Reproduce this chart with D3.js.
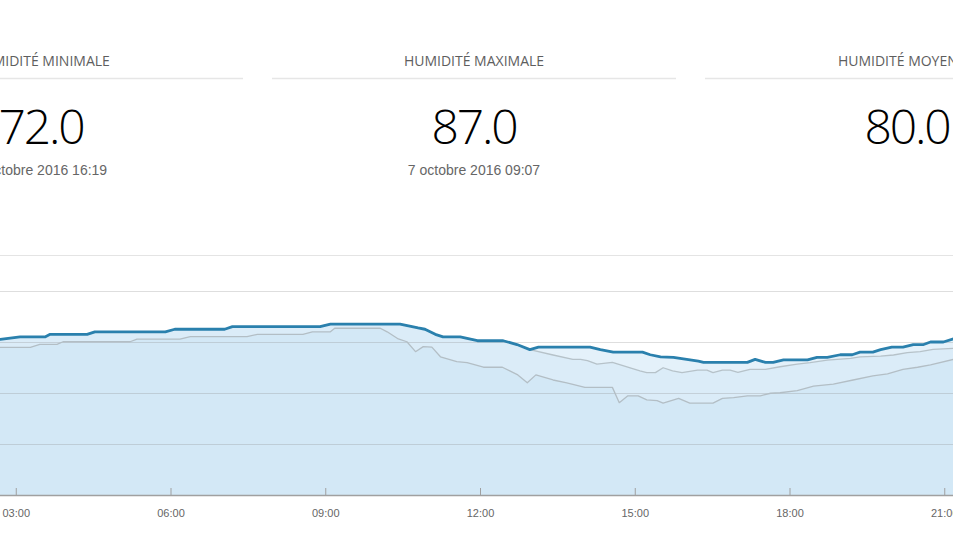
<!DOCTYPE html>
<html>
<head>
<meta charset="utf-8">
<script src="https://cdn.jsdelivr.net/npm/d3@7"></script>
<style>
  html, body { margin: 0; padding: 0; background: #fff; overflow: hidden; }
  svg { display: block; font-family: "Open Sans", sans-serif; }
</style>
</head>
<body>
<div id="chart"></div>
<script>
// stats shown above the chart
const statLabels = ["HUMIDITÉ MINIMALE", "HUMIDITÉ MAXIMALE", "HUMIDITÉ MOYENNE"];
const statValues = [72.0, 87.0, 80.0];
const statDates = ["7 octobre 2016 16:19", "7 octobre 2016 09:07", ""];

const tickHours = [0, 3, 6, 9, 12, 15, 18, 21, 24];
const gridValues = [20, 40, 60, 80, 100];

// humidity (blue line)
const humidite = [
  ["02:30", 81], ["02:42", 81], ["03:05", 82], ["03:34", 82], ["03:40", 83],
  ["04:23", 83], ["04:32", 84], ["05:54", 84], ["06:05", 85], ["07:03", 85],
  ["07:12", 86], ["08:54", 86], ["09:06", 87], ["10:27", 87], ["10:48", 85.5],
  ["10:56", 85], ["11:08", 83], ["11:17", 82], ["11:37", 82], ["11:57", 80.5],
  ["12:27", 80.5], ["12:43", 79], ["12:58", 77], ["13:08", 78], ["14:08", 78],
  ["14:20", 77], ["14:35", 76], ["15:09", 76], ["15:18", 75], ["15:30", 74.2],
  ["15:45", 74], ["16:14", 72.5], ["16:20", 72], ["17:11", 72], ["17:20", 73.2],
  ["17:32", 72], ["17:41", 72], ["17:53", 73], ["18:21", 73], ["18:32", 74],
  ["18:44", 74], ["18:59", 75], ["19:13", 75], ["19:22", 76], ["19:37", 76],
  ["19:46", 77], ["19:59", 78], ["20:12", 78], ["20:24", 79], ["20:36", 79],
  ["20:44", 80], ["20:59", 80], ["21:11", 81.3], ["21:24", 82]
];

// upper grey series
const serieHaute = [
  ["02:30", 81], ["02:42", 81], ["03:05", 82], ["03:34", 82], ["03:40", 83],
  ["04:23", 83], ["04:32", 84], ["05:54", 84], ["06:05", 85], ["07:03", 85],
  ["07:12", 86], ["08:54", 86], ["09:06", 87], ["10:27", 87], ["10:48", 85.5],
  ["10:56", 85], ["11:08", 83], ["11:17", 82], ["11:37", 82], ["11:57", 80.5],
  ["12:27", 80.5], ["12:43", 79], ["12:58", 77], ["13:25", 74.9], ["13:48", 73.2],
  ["13:57", 73.2], ["14:05", 72.7], ["14:16", 71.3], ["14:34", 72], ["15:06", 68.7],
  ["15:14", 68], ["15:24", 68], ["15:33", 69.9], ["15:44", 68.7], ["15:55", 68],
  ["16:13", 69], ["16:24", 69], ["16:31", 68], ["16:42", 69], ["16:51", 69],
  ["17:00", 68.1], ["17:14", 69.3], ["17:32", 69.3], ["17:49", 70.3], ["18:09", 71.3],
  ["18:24", 71.9], ["18:44", 72.9], ["19:11", 73.6], ["19:22", 74.2], ["19:46", 74.5],
  ["20:01", 74.9], ["20:17", 75.8], ["20:32", 76.2], ["20:47", 77.1], ["21:11", 77.5],
  ["21:24", 78]
];

// lower grey series
const serieBasse = [
  ["02:30", 77.9], ["03:17", 77.9], ["03:28", 79.1], ["03:48", 79.1], ["03:55", 80.1],
  ["05:13", 80.1], ["05:21", 81.1], ["06:11", 81.1], ["06:23", 82.1], ["07:29", 82.1],
  ["07:41", 83], ["08:34", 83], ["08:45", 84], ["09:06", 84], ["09:11", 85.4],
  ["10:04", 85.4], ["10:12", 84], ["10:25", 81.2], ["10:35", 80.1], ["10:45", 76.2],
  ["10:54", 78.2], ["11:04", 78], ["11:14", 74.2], ["11:33", 72.3], ["11:45", 71.9],
  ["12:04", 70.1], ["12:26", 70.1], ["12:44", 67.1], ["12:55", 64], ["13:05", 67.1],
  ["13:25", 65.1], ["13:41", 64], ["14:02", 62.2], ["14:34", 62.2], ["14:42", 56.2],
  ["14:52", 58.9], ["15:04", 58.9], ["15:14", 57.3], ["15:26", 57], ["15:33", 56],
  ["15:51", 57.9], ["16:04", 56], ["16:31", 56], ["16:42", 57.9], ["16:55", 58.2],
  ["17:11", 58.9], ["17:26", 58.9], ["17:38", 59.9], ["17:49", 60.1], ["18:09", 60.9],
  ["18:28", 62.7], ["18:51", 63.5], ["19:14", 65.1], ["19:37", 66.7], ["19:54", 67.5],
  ["20:12", 69.3], ["20:29", 70.1], ["20:44", 71], ["21:11", 73.2], ["21:24", 74]
];

const width = 953, height = 536;
const panelW = 404, panelGap = 29, panelStart = -161;
const plotTop = 255, plotBottom = 495;

const parseTime = d3.timeParse("%Y-%m-%d %H:%M");
const day = "2016-10-07";
const toPoints = arr => arr.map(([t, v]) => ({ t: parseTime(`${day} ${t}`), v }));

const svg = d3.select("#chart").append("svg")
  .attr("width", width)
  .attr("height", height);

// ---- stat panels
const panels = svg.selectAll(".panel")
  .data(statLabels.map((label, i) => ({ label, value: statValues[i], date: statDates[i] })))
  .join("g")
  .attr("class", "panel")
  .attr("transform", (_d, i) => `translate(${panelStart + i * (panelW + panelGap)},0)`);

panels.append("text")
  .attr("x", panelW / 2)
  .attr("y", 66)
  .attr("text-anchor", "middle")
  .style("font-size", "14px")
  .style("fill", "#5e5e5e")
  .text(d => d.label);

panels.append("line")
  .attr("x1", 0).attr("x2", panelW)
  .attr("y1", 78.5).attr("y2", 78.5)
  .attr("stroke", "#e6e6e6")
  .attr("stroke-width", 1.5);

panels.append("text")
  .attr("x", panelW / 2)
  .attr("y", 144)
  .attr("text-anchor", "middle")
  .style("font-size", "48px")
  .style("font-weight", "300")
  .style("letter-spacing", "-2.2px")
  .style("fill", "#000")
  .text(d => d3.format(".1f")(d.value));

panels.append("text")
  .attr("x", panelW / 2)
  .attr("y", 175)
  .attr("text-anchor", "middle")
  .style("font-family", "'Liberation Sans', Arial, sans-serif")
  .style("font-size", "14px")
  .style("fill", "#666")
  .text(d => d.date);

// ---- chart
const x = d3.scaleTime()
  .domain([parseTime(`${day} 00:00`), parseTime("2016-10-08 00:00")])
  .range([-139, 1099]);

const y = d3.scaleLinear()
  .domain([20, 100])
  .range([plotBottom, 291]);

const area = d3.area()
  .x(d => x(d.t))
  .y0(plotBottom)
  .y1(d => y(d.v));

const line = d3.line()
  .x(d => x(d.t))
  .y(d => y(d.v));

const series = [
  { pts: toPoints(humidite), fill: "#e4f1fa", stroke: "#2a80ad", w: 2.8 },
  { pts: toPoints(serieHaute), fill: "#dbecf8", stroke: "#b6c2c9", w: 1.3 },
  { pts: toPoints(serieBasse), fill: "#d3e8f6", stroke: "#b3bec5", w: 1.3 }
];

svg.append("line")
  .attr("x1", 0).attr("x2", width)
  .attr("y1", plotTop + 0.5).attr("y2", plotTop + 0.5)
  .attr("stroke", "#e4e4e4");

svg.selectAll(".area")
  .data(series)
  .join("path")
  .attr("class", "area")
  .attr("fill", d => d.fill)
  .attr("d", d => area(d.pts));

svg.selectAll(".grid")
  .data(gridValues.slice(1))
  .join("line")
  .attr("class", "grid")
  .attr("x1", 0).attr("x2", width)
  .attr("y1", d => Math.round(y(d)) + 0.5)
  .attr("y2", d => Math.round(y(d)) + 0.5)
  .attr("stroke", "#888")
  .attr("stroke-opacity", 0.28);

// grey lines first, the humidity line on top
svg.selectAll(".serie")
  .data(series.slice().reverse())
  .join("path")
  .attr("class", "serie")
  .attr("fill", "none")
  .attr("stroke", d => d.stroke)
  .attr("stroke-width", d => d.w)
  .attr("stroke-linejoin", "round")
  .attr("d", d => line(d.pts));

// x axis
const xAxis = d3.axisBottom(x)
  .tickValues(tickHours.map(h => d3.timeHour.offset(parseTime(`${day} 00:00`), h)))
  .tickFormat(d3.timeFormat("%H:%M"))
  .tickSize(-7)
  .tickPadding(14);

const axisG = svg.append("g")
  .attr("transform", `translate(0,${plotBottom})`)
  .call(xAxis);

axisG.select(".domain").remove();
axisG.append("line")
  .attr("x1", 0).attr("x2", width)
  .attr("y1", 0.5).attr("y2", 0.5)
  .attr("stroke", "#a0a0a0")
  .attr("stroke-width", 1.5);
axisG.selectAll(".tick line").attr("stroke", "#a0a0a0");
axisG.selectAll(".tick text")
  .style("font-family", "'Liberation Sans', Arial, sans-serif")
  .style("font-size", "11px")
  .style("fill", "#666");
</script>
</body>
</html>
